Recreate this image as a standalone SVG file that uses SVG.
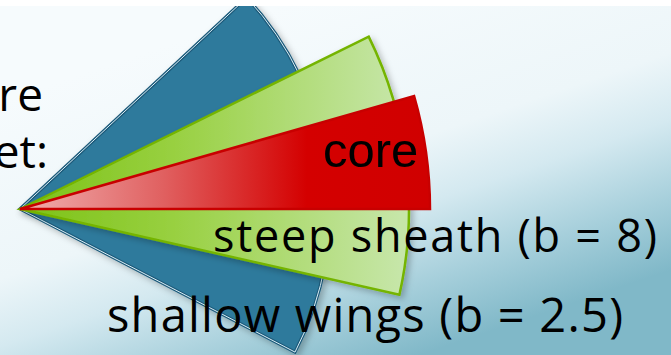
<svg xmlns="http://www.w3.org/2000/svg" width="671" height="355" viewBox="0 0 671 355">
<defs>
<linearGradient id="bg" x1="300" y1="0" x2="420" y2="355" gradientUnits="userSpaceOnUse">
<stop offset="0" stop-color="#f6fbfd"/>
<stop offset="0.45" stop-color="#edf6f9"/>
<stop offset="0.62" stop-color="#d4e9f0"/>
<stop offset="0.82" stop-color="#a6cfdb"/>
<stop offset="1" stop-color="#80b8c8"/>
</linearGradient>
<linearGradient id="gg" x1="20" y1="0" x2="400" y2="0" gradientUnits="userSpaceOnUse">
<stop offset="0" stop-color="#7cc216"/>
<stop offset="0.4" stop-color="#98d040"/>
<stop offset="1" stop-color="#c6e6a8"/>
</linearGradient>
<linearGradient id="rg" x1="20" y1="0" x2="430" y2="0" gradientUnits="userSpaceOnUse">
<stop offset="0" stop-color="#f0b0b0"/>
<stop offset="0.35" stop-color="#e06060"/>
<stop offset="0.7" stop-color="#d40000"/>
<stop offset="1" stop-color="#d00000"/>
</linearGradient>
<filter id="sh" x="-10%" y="-10%" width="130%" height="130%">
<feDropShadow dx="3" dy="3" stdDeviation="3" flood-color="#000" flood-opacity="0.25"/>
</filter>
</defs>
<style>
.t{font-family:"Open Sans",Lato,sans-serif;fill:#000}
.c{font-family:"Liberation Sans",Arial,sans-serif;fill:#000}
</style>
<rect x="0" y="0" width="671" height="355" fill="url(#bg)"/>
<g id="wings" filter="url(#sh)">
<path d="M20,209 L246.7,-2.4 A310,310 0 0 1 295,352.1 Z" fill="#2e7a9c" stroke="#1d5a7a" stroke-width="3.2" stroke-linejoin="miter"/>
<path d="M20,209 L246.7,-2.4 A310,310 0 0 1 295,352.1 Z" fill="none" stroke="#d8eef6" stroke-width="1"/>
</g>
<g id="sheath" filter="url(#sh)">
<path d="M20,209 L368.7,36.6 A389,389 0 0 1 399.4,294.8 Z" fill="url(#gg)" stroke="#74b400" stroke-width="2.5"/>
</g>
<g id="core">
<path d="M20,209 L414.1,96 A410,410 0 0 1 430,209 Z" fill="url(#rg)" stroke="#c80000" stroke-width="2.5"/>
</g>
<rect x="0" y="0" width="671" height="6" fill="#ffffff"/>
<g id="labels">
<text class="t" x="43" y="111" font-size="46" text-anchor="end">re</text>
<text class="t" x="48" y="168" font-size="46" text-anchor="end">et:</text>
<text class="c" x="323" y="167" font-size="49">core</text>
<text class="t" x="213" y="252" font-size="45" textLength="444" lengthAdjust="spacing">steep sheath (b = 8)</text>
<text class="t" x="107" y="332" font-size="47" textLength="516" lengthAdjust="spacing">shallow wings (b = 2.5)</text>
</g>
</svg>
